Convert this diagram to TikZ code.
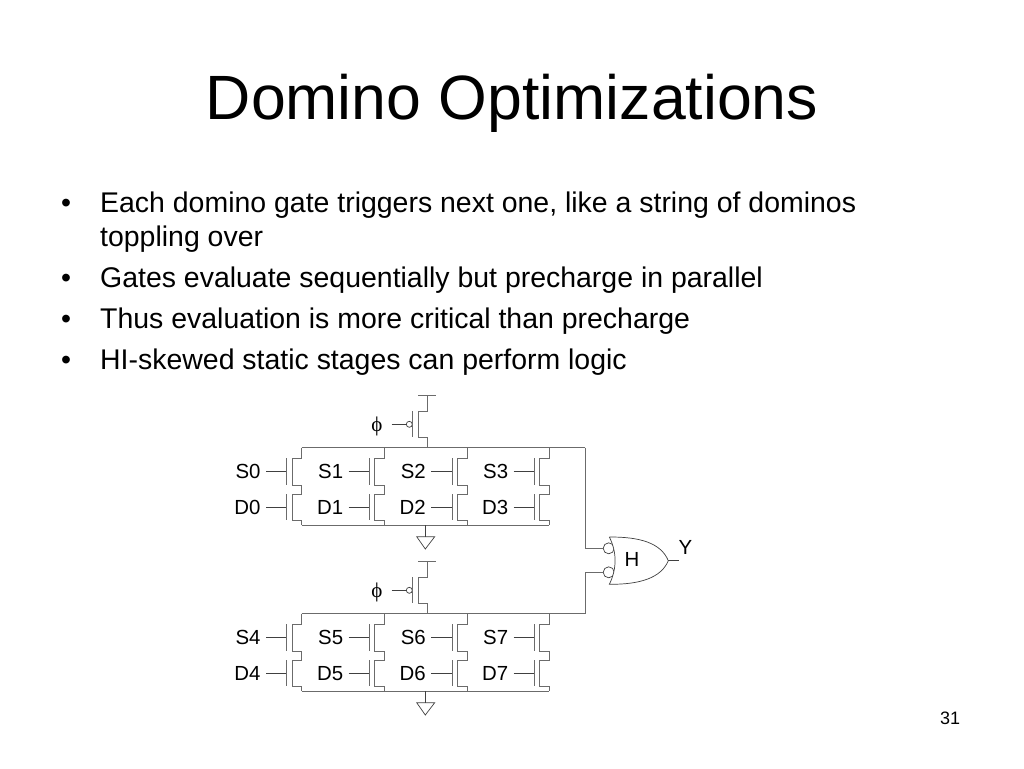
\documentclass[tikz,border=0pt]{standalone}
\usepackage{fontspec}
\setmainfont{Liberation Sans}
\newfontfamily\phifont{Liberation Serif}
\usetikzlibrary{calc}
\definecolor{wirecol}{gray}{0.42}
\tikzset{%
wire/.style={draw=wirecol,line width=1pt},
thin wire/.style={draw=black!75,line width=0.7pt},
sig/.style={anchor=east,inner sep=5.3pt,text height=14.6pt,text depth=0pt,font=\fontsize{20.4}{24}\selectfont},
titletext/.style={anchor=base,inner sep=0pt,font=\fontsize{62.6}{70}\selectfont},
bodytext/.style={anchor=base west,inner sep=0pt,font=\fontsize{28.45}{34}\selectfont},
bubble/.style={circle,draw=black!75,line width=0.7pt,fill=white,minimum size=#1,inner sep=0pt}
}
\begin{document}
\begin{tikzpicture}[x=1pt,y=-1pt]
\useasboundingbox (0,0) rectangle (1024,768);
\node[titletext] (title) at (512,119) {Domino Optimizations};

\foreach \n/\xb/\yb/\t in {b1/61/212/•,l1/100/212/{Each domino gate triggers next one, like a string of dominos},
                           l1b/100/246/{toppling over},
                           b2/61/287/•,l2/100/287/{Gates evaluate sequentially but precharge in parallel},
                           b3/61/328/•,l3/100/328/{Thus evaluation is more critical than precharge},
                           b4/61/369/•,l4/100/369/{HI-skewed static stages can perform logic}}
  \node[bodytext] (\n) at (\xb,\yb) {\t};

\foreach \blk/\dy/\first in {top/0/0,bot/166/4}
{
  % rails
  \coordinate (rt\blk) at (301.7,447.7+\dy);
  \coordinate (rb\blk) at (301.7,525+\dy);
  \coordinate (re\blk) at (585,447.7+\dy);
  \draw[wire] (rb\blk) -- ++(247.6,0);
  \draw[wire] (rt\blk) -- (re\blk);
  % clock device
  \node[sig,anchor=center,inner sep=0pt,font=\fontsize{21}{24}\phifont] (phi\blk) at (377,424.5+\dy) {ϕ};
  \coordinate (vdd\blk) at (427,395+\dy);
  \coordinate (ck\blk) at (391.7,424.3+\dy);
  \node[bubble=6pt] (cb\blk) at (409.3,424.3+\dy) {};
  \draw[thin wire] (ck\blk) -- (cb\blk);
  \draw[wire] (412.7,411+\dy) -- (412.7,437.3+\dy);
  \draw[wire] (418,395+\dy) -- (436,395+\dy);
  \draw[wire] (vdd\blk) -- ++(0,16) -- ++(-8.7,0) -- ++(0,26.3) -- ++(8.7,0) -- ++(0,10.4);
  % ground
  \coordinate (gnd\blk) at (425.3,536.7+\dy);
  \draw[thin wire] (425.3,525+\dy) -- (gnd\blk);
  \draw[thin wire] (416.7,536.7+\dy) -- (434.7,536.7+\dy) -- (425.3,549+\dy) -- cycle;
  % series stacks
  \foreach \c/\xc in {0/301.7,1/384.3,2/467,3/549.3}
  {
    \pgfmathtruncatemacro{\k}{\first+\c}
    \node[sig] (S\k) at (\xc-35.7,471+\dy) {S\k};
    \node[sig] (D\k) at (\xc-35.7,507+\dy) {D\k};
    \coordinate (gs\k) at (\xc-15,471+\dy);
    \coordinate (gd\k) at (\xc-15,507+\dy);
    \draw[thin wire] (S\k.east) -- (gs\k);
    \draw[thin wire] (D\k.east) -- (gd\k);
    \draw[wire] ($(gs\k)+(0,-13)$) -- ($(gs\k)+(0,14)$);
    \draw[wire] ($(gd\k)+(0,-13)$) -- ($(gd\k)+(0,13)$);
    \draw[wire] (\xc,447.7+\dy) -- ++(0,10.6) -- ++(-9.4,0) -- ++(0,26.7) -- ++(9.4,0)
                -- ++(0,9) -- ++(-9.4,0) -- ++(0,26) -- ++(9.4,0) -- ++(0,5.3);
  }
}

% output gate
\node[bubble=11pt] (inA) at (608.7,548.3) {};
\node[bubble=11pt] (inB) at (608.7,572.3) {};
\draw[wire] (retop) -- (585,548.3) -- (inA.west);
\draw[wire] (rebot) -- (585,572.3) -- (inB.west);
\coordinate (tip) at (668.3,560.7);
\coordinate (outY) at (679.3,560.7);
\fill[white] (609.3,537) .. controls (617,552) and (617,569) .. (609.3,584.3)
      .. controls (640,584.5) and (661,578) .. (tip)
      .. controls (661,543) and (640,536.8) .. (609.3,537);
\draw[thin wire] (609.3,537) .. controls (617,552) and (617,569) .. (609.3,584.3)
      .. controls (640,584.5) and (661,578) .. (tip)
      .. controls (661,543) and (640,536.8) .. (609.3,537);
\draw[thin wire] (tip) -- (outY);
\node[sig,anchor=center,inner sep=0pt] (H) at (632,559.4) {H};
\node[sig,anchor=center,inner sep=0pt] (Y) at (685.5,547) {Y};
\node[inner sep=0pt,font=\fontsize{18}{20}\selectfont] (pagenum) at (950,718) {31};
\end{tikzpicture}
\end{document}
